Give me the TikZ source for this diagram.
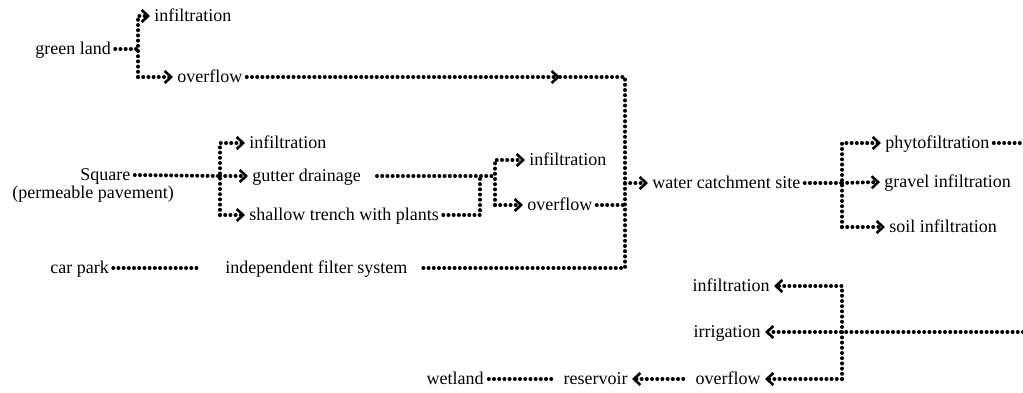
\documentclass[tikz,border=0pt]{standalone}
\usepackage{fontspec}
\setmainfont{Liberation Serif}
\usepackage{tikz}
\usetikzlibrary{positioning,arrows.meta}

\tikzset{
  flow/.style={line width=2pt, line cap=round, dash pattern=on 0pt off 2.6pt},
  lbl/.style={inner sep=2pt, text height=0.7em, text depth=0.2em}
}

\begin{document}
\begin{tikzpicture}[x=0.5pt, y=-0.5pt,
    font=\fontsize{9}{10}\selectfont,
    >={Straight Barb[length=3.2pt,width=6pt,line width=1.3pt]}]
    \useasboundingbox (0,0) rectangle (1023,392);
    % sources
    \node[lbl, anchor=west] (green) at (31,49) {green land};
    \node[lbl, anchor=west] (ginf) at (150,16) {infiltration};
    \node[lbl, anchor=west] (gover) at (173,77) {overflow};
    \node[lbl, anchor=west] (sq) at (76,175) {Square};
    \node[lbl, anchor=west] (sqsub) at (8,193) {(permeable pavement)};
    \node[lbl, anchor=west] (sinf) at (245,143) {infiltration};
    \node[lbl, anchor=west] (gutter) at (248,176) {gutter drainage};
    \node[lbl, anchor=west] (trench) at (245,215) {shallow trench with plants};
    \node[lbl, anchor=west] (tinf) at (525,160) {infiltration};
    \node[lbl, anchor=west] (tover) at (523,205) {overflow};
    \node[lbl, anchor=west] (car) at (46,268) {car park};
    \node[lbl, anchor=west] (filter) at (221,268) {independent filter system};
    % catchment
    \node[lbl, anchor=west] (catch) at (648,183) {water catchment site};
    \node[lbl, anchor=west] (phyto) at (881,143) {phytofiltration};
    \node[lbl, anchor=west] (gravel) at (880,182) {gravel infiltration};
    \node[lbl, anchor=west] (soil) at (885,227) {soil infiltration};
    % reuse
    \node[lbl, anchor=east] (rinf) at (774,286) {infiltration};
    \node[lbl, anchor=east] (irrig) at (765,332) {irrigation};
    \node[lbl, anchor=east] (rover) at (765,379) {overflow};
    \node[lbl, anchor=east] (reserv) at (632,379) {reservoir};
    \node[lbl, anchor=east] (wet) at (488,379) {wetland};

    % junctions
    \coordinate (gtop) at (138,16);
    \coordinate (gbot) at (138,77);
    \coordinate (mid) at (560,77);
    \coordinate (c1) at (625,77);
    \coordinate (c2) at (625,268);
    \coordinate (fe) at (421,268);
    \coordinate (ce) at (198,268);
    \coordinate (sqj) at (220,176);
    \coordinate (sqt) at (220,143);
    \coordinate (sqb) at (220,215);
    \coordinate (gs) at (377,176);
    \coordinate (tj) at (495,176);
    \coordinate (tt) at (495,160);
    \coordinate (tb) at (495,205);
    \coordinate (tr) at (480,215);
    \coordinate (wj) at (842,183);
    \coordinate (wt) at (842,143);
    \coordinate (wb) at (842,227);
    \coordinate (pe) at (1023,143);
    \coordinate (rt) at (842,286);
    \coordinate (rb) at (842,379);
    \coordinate (re) at (1023,332);

    % green land
    \draw[flow] (green.east) -- (green.east -| gtop);
    \draw[flow,->] (gbot) -- (gtop) -- (ginf.west);
    \draw[flow,->] (gbot) -- (gover.west);
    \draw[flow,->] (gover.east) -- (mid);
    \draw[flow] (mid) -- (c1) -- (c2) -- (fe);
    % square
    \draw[flow] (sq.east) -- (sqj);
    \draw[flow,->] (sqb) -- (sqt) -- (sinf.west);
    \draw[flow,->] (sqj) -- (gutter.west);
    \draw[flow,->] (sqb) -- (trench.west);
    \draw[flow] (gs) -- (tj);
    \draw[flow] (trench.east) -- (tr) -- (tr |- tj);
    \draw[flow,->] (tb) -- (tt) -- (tinf.west);
    \draw[flow,->] (tb) -- (tover.west);
    \draw[flow] (tover.east) -- (tover.east -| c1);
    % car park
    \draw[flow] (car.east) -- (ce);
    % catchment
    \draw[flow,->] (c1 |- catch.west) -- (catch.west);
    \draw[flow] (catch.east) -- (wj);
    \draw[flow,->] (wb) -- (wt) -- (phyto.west);
    \draw[flow,->] (wj) -- (gravel.west);
    \draw[flow,->] (wb) -- (soil.west);
    \draw[flow] (phyto.east) -- (pe);
    % reuse
    \draw[flow,->] (re) -- (irrig.east);
    \draw[flow,->] (rb) -- (rt) -- (rinf.east);
    \draw[flow,->] (rb) -- (rover.east);
    \draw[flow,->, shorten <=4pt] (rover.west) -- (reserv.east);
    \draw[flow, shorten <=4pt] (reserv.west) -- (wet.east);
\end{tikzpicture}
\end{document}
